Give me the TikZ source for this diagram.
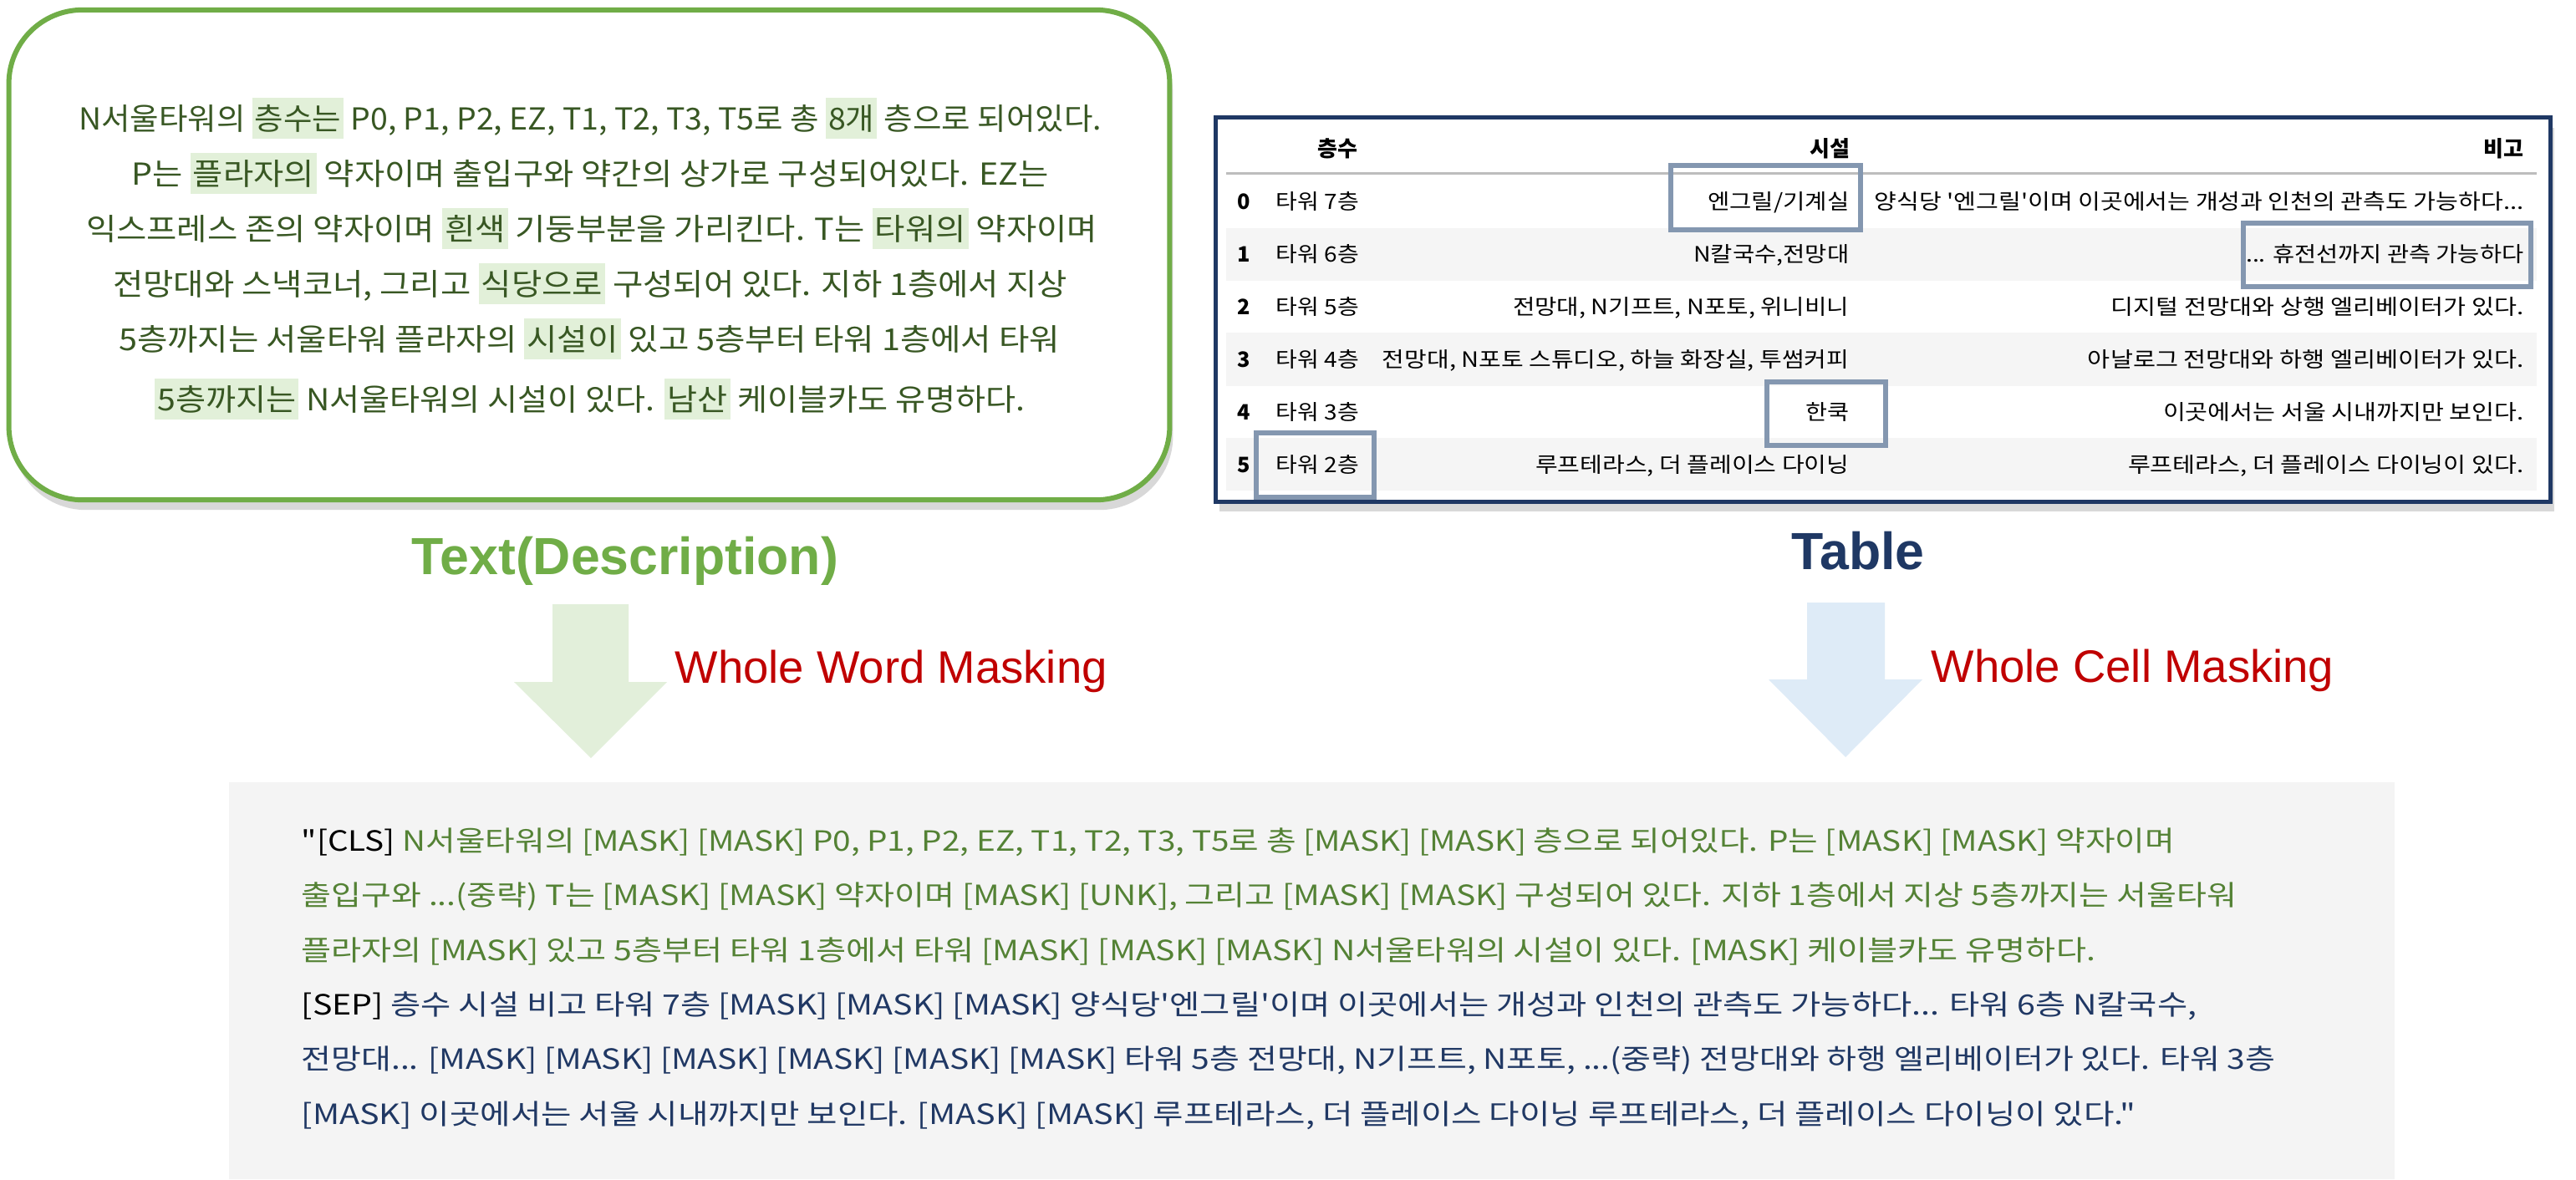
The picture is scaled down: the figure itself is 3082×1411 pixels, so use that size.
\documentclass[tikz,border=0pt]{standalone}
\usepackage{fontspec}
\usepackage{graphicx}
\usetikzlibrary{shadows}
\setmainfont{Liberation Sans}
\newfontfamily\kr{Noto Sans CJK KR}
\definecolor{tgreen}{HTML}{385723}
\definecolor{hlgreen}{HTML}{E2F0D9}
\definecolor{bordergreen}{HTML}{70AD47}
\definecolor{navy}{HTML}{1F3864}
\definecolor{maskred}{HTML}{C00000}
\definecolor{bgreen}{HTML}{548235}
\definecolor{bblue}{HTML}{203864}
\definecolor{outbg}{HTML}{F4F4F4}
\definecolor{arrgreen}{HTML}{E2EFDA}
\definecolor{arrblue}{HTML}{DEEBF7}
\definecolor{cellbox}{HTML}{8497B0}
\definecolor{stripe}{HTML}{F5F5F5}
\definecolor{rulegray}{HTML}{BDBDBD}
\newcommand{\hlw}[1]{{\setlength{\fboxsep}{0pt}\colorbox{hlgreen}{\rule[-0.3em]{0pt}{1.35em}\kern0.08em#1\kern0.08em}}}
\newcommand{\fitw}[2]{\resizebox{#1}{\height}{#2}}
\tikzset{
  descline/.style={anchor=base, inner sep=0pt, text=tgreen, font=\kr\fontsize{10.3pt}{12pt}\selectfont},
  outline/.style={anchor=base west, inner sep=0pt, font=\kr\fontsize{9.5pt}{11pt}\selectfont},
  cell/.style={inner sep=0pt, text=black, font=\kr\fontsize{7.2pt}{9pt}\selectfont},
  cellR/.style={cell, anchor=base east},
  cellL/.style={cell, anchor=base west},
  idx/.style={cell, anchor=base, font=\kr\fontsize{7.2pt}{9pt}\selectfont\bfseries},
  hdr/.style={cell, font=\kr\fontsize{7.4pt}{9pt}\selectfont\bfseries},
  markbox/.style={draw=cellbox, line width=0.06cm},
  title/.style={anchor=base, inner sep=0pt, font=\fontsize{17.8pt}{20pt}\selectfont\bfseries},
  masklabel/.style={anchor=base west, inner sep=0pt, text=maskred, font=\fontsize{15.5pt}{18pt}\selectfont},
  softshadow/.style={drop shadow={shadow xshift=0.04cm, shadow yshift=-0.12cm, opacity=0.3, fill=black!50}},
}
\begin{document}
\begin{tikzpicture}[x=0.01cm,y=-0.01cm]
\useasboundingbox (0,0) rectangle (3082,1411);
\fill[white] (0,0) rectangle (3082,1411);

% ---------- description box ----------
\node[draw=bordergreen, line width=0.06cm, rounded corners=0.88cm, fill=white,
      minimum width=13.88cm, minimum height=5.86cm, inner sep=0pt, softshadow] (descbox) at (705,305) {};
\node[descline] (d1) at (706,155) {\fitw{12.23cm}{N서울타워의 \hlw{층수는} P0, P1, P2, EZ, T1, T2, T3, T5로 총 \hlw{8개} 층으로 되어있다.}};
\node[descline] (d2) at (706,221) {\fitw{10.96cm}{P는 \hlw{플라자의} 약자이며 출입구와 약간의 상가로 구성되어있다. EZ는}};
\node[descline] (d3) at (708,287) {\fitw{12.09cm}{익스프레스 존의 약자이며 \hlw{흰색} 기둥부분을 가리킨다. T는 \hlw{타워의} 약자이며}};
\node[descline] (d4) at (706,353) {\fitw{11.41cm}{전망대와 스낵코너, 그리고 \hlw{식당으로} 구성되어 있다. 지하 1층에서 지상}};
\node[descline] (d5) at (705,419) {\fitw{11.25cm}{5층까지는 서울타워 플라자의 \hlw{시설이} 있고 5층부터 타워 1층에서 타워}};
\node[descline] (d6) at (706,491) {\fitw{10.41cm}{\hlw{5층까지는} N서울타워의 시설이 있다. \hlw{남산} 케이블카도 유명하다.}};

% ---------- table ----------
\node[draw=navy, line width=0.05cm, fill=white, minimum width=15.96cm, minimum height=4.59cm,
      inner sep=0pt, softshadow] (tablebox) at (2253,370.5) {};
\fill[stripe] (1467,273) rectangle (3035,336);
\fill[stripe] (1467,398) rectangle (3035,462);
\fill[stripe] (1467,524) rectangle (3035,587);
\draw[rulegray, line width=0.03cm] (1467,207) -- (3035,207);

\node[hdr, anchor=base] (h1) at (1600,187) {층수};
\node[hdr, anchor=base east] (h2) at (2214,187) {시설};
\node[hdr, anchor=base east] (h3) at (3020,187) {비고};

\node[idx] (i0) at (1488,250) {0};
\node[idx] (i1) at (1488,313) {1};
\node[idx] (i2) at (1488,376) {2};
\node[idx] (i3) at (1488,439) {3};
\node[idx] (i4) at (1488,502) {4};
\node[idx] (i5) at (1488,565) {5};

\node[cellL] (f0) at (1526,250) {\fitw{0.99cm}{타워 7층}};
\node[cellL] (f1) at (1526,313) {\fitw{0.99cm}{타워 6층}};
\node[cellL] (f2) at (1526,376) {\fitw{0.99cm}{타워 5층}};
\node[cellL] (f3) at (1526,439) {\fitw{0.99cm}{타워 4층}};
\node[cellL] (f4) at (1526,502) {\fitw{0.99cm}{타워 3층}};
\node[cellL] (f5) at (1526,565) {\fitw{0.99cm}{타워 2층}};

\node[cellR] (s0) at (2213,250) {\fitw{1.69cm}{엔그릴/기계실}};
\node[cellR] (s1) at (2213,313) {\fitw{1.86cm}{N칼국수,전망대}};
\node[cellR] (s2) at (2213,376) {\fitw{4.02cm}{전망대, N기프트, N포토, 위니비니}};
\node[cellR] (s3) at (2213,439) {\fitw{5.58cm}{전망대, N포토 스튜디오, 하늘 화장실, 투썸커피}};
\node[cellR] (s4) at (2213,502) {\fitw{0.52cm}{한쿡}};
\node[cellR] (s5) at (2213,565) {\fitw{3.75cm}{루프테라스, 더 플레이스 다이닝}};

\node[cellR] (b0) at (3020,250) {\fitw{7.76cm}{양식당 '엔그릴'이며 이곳에서는 개성과 인천의 관측도 가능하다...}};
\node[cellR] (b1) at (3020,313) {\fitw{3.32cm}{... 휴전선까지 관측 가능하다}};
\node[cellR] (b2) at (3020,376) {\fitw{4.93cm}{디지털 전망대와 상행 엘리베이터가 있다.}};
\node[cellR] (b3) at (3020,439) {\fitw{5.21cm}{아날로그 전망대와 하행 엘리베이터가 있다.}};
\node[cellR] (b4) at (3020,502) {\fitw{4.31cm}{이곳에서는 서울 시내까지만 보인다.}};
\node[cellR] (b5) at (3020,565) {\fitw{4.73cm}{루프테라스, 더 플레이스 다이닝이 있다.}};

\draw[markbox] (1999,198) rectangle (2226,275);
\draw[markbox] (2684,267) rectangle (3028,343);
\draw[markbox] (2114,457) rectangle (2256,533);
\draw[markbox] (1503,518) rectangle (1644,595);

% ---------- titles, arrows, labels ----------
\node[title, text=bordergreen] (ttext) at (748,687) {Text(Description)};
\node[title, text=navy] (ttable) at (2223,681) {Table};

\fill[arrgreen] (661,723) -- (752,723) -- (752,816) -- (798,816) -- (707,907) -- (615,816) -- (661,816) -- cycle;
\fill[arrblue] (2162,721) -- (2255,721) -- (2255,813) -- (2300,813) -- (2208,906) -- (2116,813) -- (2162,813) -- cycle;

\node[masklabel] (wwm) at (807,817) {Whole Word Masking};
\node[masklabel] (wcm) at (2310,816) {Whole Cell Masking};

% ---------- output box ----------
\node[fill=outbg, minimum width=25.89cm, minimum height=4.75cm, inner sep=0pt] (outbox) at (1569.5,1173.5) {};
\node[outline] (o1) at (360,1018) {\fitw{22.40cm}{\color{black}"[CLS] \color{bgreen}N서울타워의 [MASK] [MASK] P0, P1, P2, EZ, T1, T2, T3, T5로 총 [MASK] [MASK] 층으로 되어있다. P는 [MASK] [MASK] 약자이며}};
\node[outline] (o2) at (360,1083) {\fitw{23.14cm}{\color{bgreen}출입구와 ...(중략) T는 [MASK] [MASK] 약자이며 [MASK] [UNK], 그리고 [MASK] [MASK] 구성되어 있다. 지하 1층에서 지상 5층까지는 서울타워}};
\node[outline] (o3) at (360,1149) {\fitw{21.45cm}{\color{bgreen}플라자의 [MASK] 있고 5층부터 타워 1층에서 타워 [MASK] [MASK] [MASK] N서울타워의 시설이 있다. [MASK] 케이블카도 유명하다.}};
\node[outline] (o4) at (360,1214) {\fitw{22.66cm}{\color{black}[SEP] \color{bblue}층수 시설 비고 타워 7층 [MASK] [MASK] [MASK] 양식당'엔그릴'이며 이곳에서는 개성과 인천의 관측도 가능하다... 타워 6층 N칼국수,}};
\node[outline] (o5) at (360,1279) {\fitw{23.60cm}{\color{bblue}전망대... [MASK] [MASK] [MASK] [MASK] [MASK] [MASK] 타워 5층 전망대, N기프트, N포토, ...(중략) 전망대와 하행 엘리베이터가 있다. 타워 3층}};
\node[outline] (o6) at (360,1345) {\fitw{21.93cm}{\color{bblue}[MASK] 이곳에서는 서울 시내까지만 보인다. [MASK] [MASK] 루프테라스, 더 플레이스 다이닝 루프테라스, 더 플레이스 다이닝이 있다."}};
\end{tikzpicture}
\end{document}
